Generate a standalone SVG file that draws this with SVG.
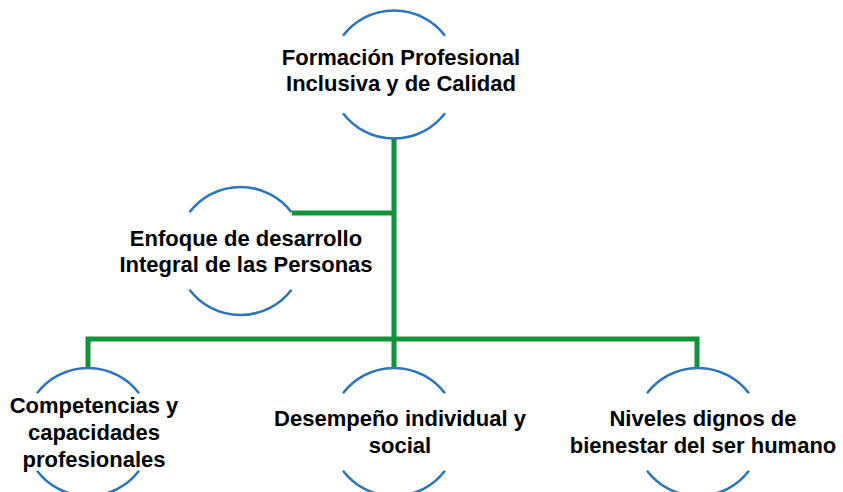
<svg xmlns="http://www.w3.org/2000/svg" width="843" height="492" viewBox="0 0 843 492">
<style>
.arc{fill:none;stroke:#2E75B6;stroke-width:2.5}
.con{fill:none;stroke:#12923A;stroke-width:5;stroke-linejoin:miter}
.t{font-family:"Liberation Sans",Arial,sans-serif;font-weight:bold;font-size:22px;fill:#000;text-anchor:middle}
</style>
<rect width="843" height="492" fill="#fff"/>
<g id="connectors">
<path class="con" d="M394 138 V339"/>
<path class="con" d="M292 213 H394"/>
<path class="con" d="M88 368 V339 H697 V368"/>
<path class="con" d="M394 339 V368"/>
</g>
<g id="n1">
<path class="arc" d="M343 35.8 A64 64 0 0 1 445 35.8"/>
<path class="arc" d="M343 113.2 A64 64 0 0 0 445 113.2"/>
<text class="t" x="401" y="65">Formación Profesional</text>
<text class="t" x="401" y="91">Inclusiva y de Calidad</text>
</g>
<g id="n2">
<path class="arc" d="M189.5 212.3 A64 64 0 0 1 291.5 212.3"/>
<path class="arc" d="M189.5 289.7 A64 64 0 0 0 291.5 289.7"/>
<text class="t" x="246" y="246">Enfoque de desarrollo</text>
<text class="t" x="246" y="272">Integral de las Personas</text>
</g>
<g id="n3">
<path class="arc" d="M37 393.3 A64 64 0 0 1 139 393.3"/>
<path class="arc" d="M37 470.7 A64 64 0 0 0 139 470.7"/>
<text class="t" x="94" y="413">Competencias y</text>
<text class="t" x="94" y="440">capacidades</text>
<text class="t" x="94" y="467">profesionales</text>
</g>
<g id="n4">
<path class="arc" d="M343 393.3 A64 64 0 0 1 445 393.3"/>
<path class="arc" d="M343 470.7 A64 64 0 0 0 445 470.7"/>
<text class="t" x="400" y="426">Desempeño individual y</text>
<text class="t" x="400" y="453">social</text>
</g>
<g id="n5">
<path class="arc" d="M647 393.3 A64 64 0 0 1 749 393.3"/>
<path class="arc" d="M647 470.7 A64 64 0 0 0 749 470.7"/>
<text class="t" x="703" y="426">Niveles dignos de</text>
<text class="t" x="703" y="453">bienestar del ser humano</text>
</g>
</svg>
